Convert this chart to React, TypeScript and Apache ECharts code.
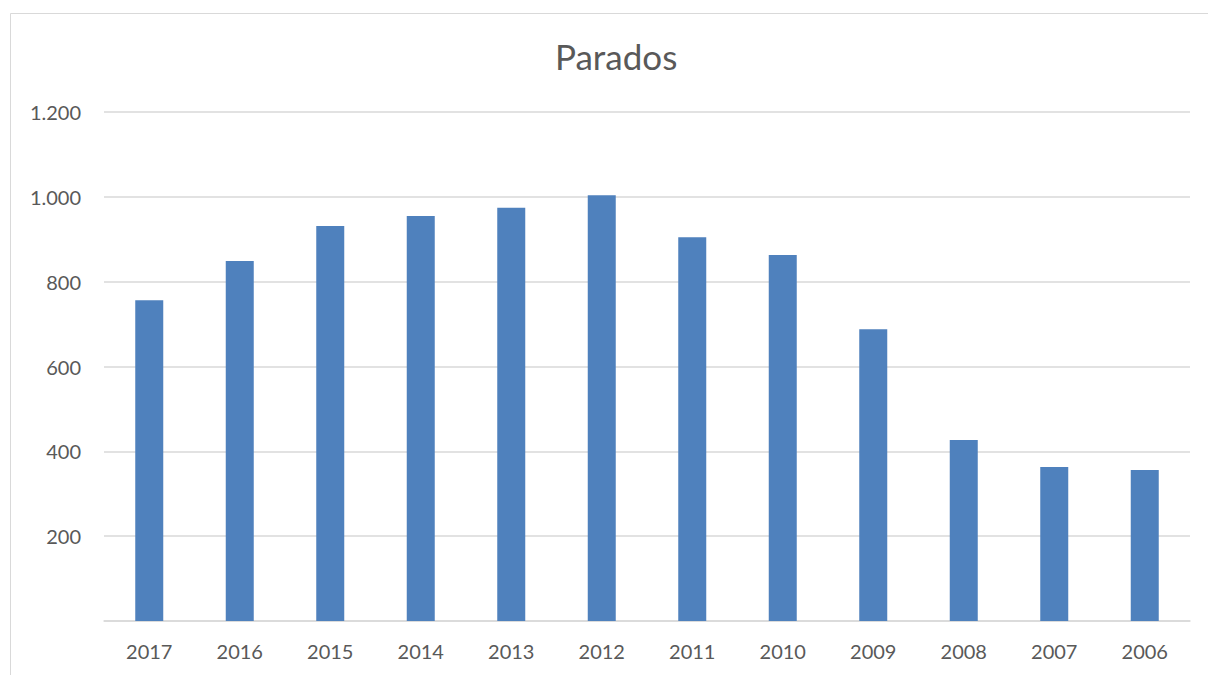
import React, { useEffect, useRef } from "react";
import * as echarts from "echarts";

const categories = ["2017", "2016", "2015", "2014", "2013", "2012", "2011", "2010", "2009", "2008", "2007", "2006"];
const parados = [756, 849, 931, 955, 974, 1004, 905, 863, 688, 427, 363, 356];
const yTicks = [0, 200, 400, 600, 800, 1000, 1200];

const fmt = (v: number) => (v === 0 ? "" : v >= 1000 ? `${Math.floor(v / 1000)}.${String(v % 1000).padStart(3, "0")}` : String(v));

export default function App() {
  const ref = useRef<HTMLDivElement>(null);
  useEffect(() => {
    if (!ref.current) return;
    const chart = echarts.init(ref.current, undefined, { renderer: "svg" });
    chart.setOption({
      animation: false,
      backgroundColor: "#ffffff",
      textStyle: { fontFamily: "Lato" },
      title: {
        text: "Parados",
        left: 550,
        top: 33,
        textStyle: { fontSize: 35, fontWeight: "normal", color: "#595959", fontFamily: "Lato" },
      },
      graphic: [
        {
          type: "rect",
          shape: { x: 10.5, y: 13.5, width: 1400, height: 900 },
          style: { fill: "none", stroke: "#d9d9d9", lineWidth: 1 },
          silent: true,
        },
      ],
      grid: { left: 104, right: 18, top: 112, bottom: 54, containLabel: false },
      xAxis: {
        type: "category",
        data: categories,
        axisLine: { lineStyle: { color: "#d9d9d9", width: 1.5 } },
        axisTick: { show: false },
        axisLabel: { color: "#595959", fontSize: 20, margin: 20, fontFamily: "Lato" },
      },
      yAxis: {
        type: "value",
        min: yTicks[0],
        max: yTicks[yTicks.length - 1],
        interval: 200,
        axisLine: { show: false },
        axisTick: { show: false },
        splitLine: { lineStyle: { color: "#d9d9d9", width: 1.5 } },
        axisLabel: { color: "#595959", fontSize: 20, margin: 23, fontFamily: "Lato", formatter: fmt },
      },
      series: [
        {
          type: "bar",
          data: parados,
          barWidth: 28,
          itemStyle: { color: "#4f81bd" },
        },
      ],
    });
    return () => chart.dispose();
  }, []);
  return <div ref={ref} style={{ position: "fixed", left: 0, top: 0, width: 1208, height: 675 }} />;
}
